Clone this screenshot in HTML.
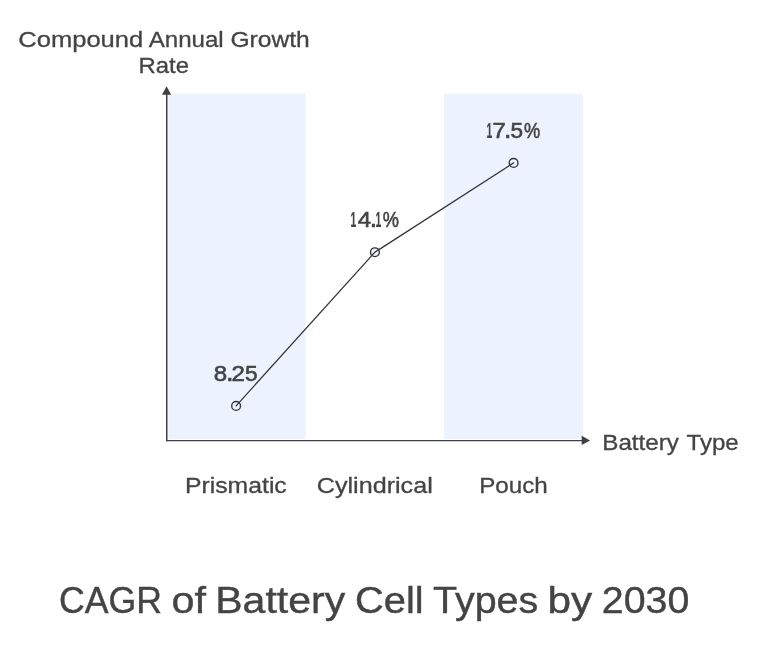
<!DOCTYPE html>
<html>
<head>
<meta charset="utf-8">
<title>CAGR of Battery Cell Types by 2030</title>
<style>
  html, body { margin: 0; padding: 0; background: #ffffff; }
  body { width: 783px; height: 654px; overflow: hidden; font-family: "Liberation Sans", sans-serif; }
  svg { display: block; will-change: transform; }
  text, tspan { font-family: "Liberation Sans", sans-serif; fill: #444444; stroke: #444444; stroke-width: 0.3px; }
  .lbl { font-size: 22.3px; }
  .num { font-size: 22.6px; stroke-width: 0.6px; }
  .one { font-size: 22.6px; font-weight: bold; stroke-width: 0.2px; }
  .dot { font-size: 28px; stroke-width: 0.3px; }
  .ttl { font-size: 37.6px; stroke-width: 0.4px; }
</style>
</head>
<body>
<svg width="783" height="654" viewBox="0 0 783 654">
  <rect x="0" y="0" width="783" height="654" fill="#ffffff"/>

  <!-- shaded bands -->
  <rect x="168.3" y="93.8" width="137" height="345.1" fill="#ecf3ff"/>
  <rect x="444" y="93.8" width="139.1" height="345.1" fill="#ecf3ff"/>

  <!-- axes -->
  <line x1="166.75" y1="94" x2="166.75" y2="441.3" stroke="#404040" stroke-width="1.5"/>
  <line x1="166" y1="440.6" x2="582.5" y2="440.6" stroke="#404040" stroke-width="1.4"/>
  <polygon points="166.6,86.2 171.1,94.8 162,94.8" fill="#404040"/>
  <polygon points="590.1,440.4 581.7,435.8 581.7,445" fill="#404040"/>

  <!-- markers -->
  <circle cx="236.1" cy="405.9" r="4.4" fill="#ecf3ff" stroke="#303030" stroke-width="1.35"/>
  <circle cx="374.9" cy="252.2" r="4.4" fill="#ecf3ff" stroke="#303030" stroke-width="1.35"/>
  <circle cx="513.6" cy="162.9" r="4.4" fill="#ecf3ff" stroke="#303030" stroke-width="1.35"/>
  <!-- line -->
  <path d="M236.10,405.90 L368.87,258.88 C370.88,256.65 372.61,254.14 374.90,252.20 C377.19,250.26 379.94,248.95 382.47,247.33 L513.60,162.90" fill="none" stroke="#363636" stroke-width="1.3" stroke-linecap="round" stroke-linejoin="round"/>

  <!-- text labels -->
  <!-- y-axis title -->
  <text><tspan class="lbl" x="18.25" y="47.0" textLength="125.00" lengthAdjust="spacingAndGlyphs">Compound</tspan> <tspan class="lbl" x="148.75" y="47.0" textLength="74.98" lengthAdjust="spacingAndGlyphs">Annual</tspan> <tspan class="lbl" x="230.50" y="47.0" textLength="79.25" lengthAdjust="spacingAndGlyphs">Growth</tspan> <tspan class="lbl" x="138.50" y="73.1" textLength="50.52" lengthAdjust="spacingAndGlyphs">Rate</tspan></text>
  <!-- x-axis title -->
  <text><tspan class="lbl" x="602.25" y="450.1" textLength="76.73" lengthAdjust="spacingAndGlyphs">Battery</tspan> <tspan class="lbl" x="686.50" y="450.1" textLength="52.22" lengthAdjust="spacingAndGlyphs">Type</tspan></text>
  <!-- data label 8.25 -->
  <text><tspan class="num" x="213.75" y="380.9" textLength="13.39" lengthAdjust="spacingAndGlyphs">8</tspan><tspan class="dot" x="225.50" y="380.9" textLength="8.51" lengthAdjust="spacingAndGlyphs">.</tspan><tspan class="num" x="231.50" y="380.9" textLength="13.42" lengthAdjust="spacingAndGlyphs">2</tspan><tspan class="num" x="245.00" y="380.9" textLength="12.61" lengthAdjust="spacingAndGlyphs">5</tspan></text>
  <!-- data label 14.1% -->
  <text><tspan class="one" x="350.50" y="227.0" textLength="5.75" lengthAdjust="spacingAndGlyphs">1</tspan><tspan class="num" x="357.75" y="227.0" textLength="13.41" lengthAdjust="spacingAndGlyphs">4</tspan><tspan class="dot" x="369.25" y="227.0" textLength="8.38" lengthAdjust="spacingAndGlyphs">.</tspan><tspan class="one" x="375.50" y="227.0" textLength="5.77" lengthAdjust="spacingAndGlyphs">1</tspan><tspan class="num" x="382.75" y="227.0" textLength="16.18" lengthAdjust="spacingAndGlyphs">%</tspan></text>
  <!-- data label 17.5% -->
  <text><tspan class="one" x="486.50" y="138.1" textLength="5.75" lengthAdjust="spacingAndGlyphs">1</tspan><tspan class="num" x="492.50" y="138.1" textLength="13.39" lengthAdjust="spacingAndGlyphs">7</tspan><tspan class="dot" x="503.50" y="138.1" textLength="8.27" lengthAdjust="spacingAndGlyphs">.</tspan><tspan class="num" x="510.50" y="138.1" textLength="12.62" lengthAdjust="spacingAndGlyphs">5</tspan><tspan class="num" x="524.00" y="138.1" textLength="16.17" lengthAdjust="spacingAndGlyphs">%</tspan></text>
  <!-- category Prismatic -->
  <text><tspan class="lbl" x="185.00" y="493.0" textLength="101.75" lengthAdjust="spacingAndGlyphs">Prismatic</tspan></text>
  <!-- category Cylindrical -->
  <text><tspan class="lbl" x="316.75" y="493.0" textLength="116.00" lengthAdjust="spacingAndGlyphs">Cylindrical</tspan></text>
  <!-- category Pouch -->
  <text><tspan class="lbl" x="479.25" y="493.0" textLength="68.54" lengthAdjust="spacingAndGlyphs">Pouch</tspan></text>
  <!-- chart title -->
  <text><tspan class="ttl" x="59.00" y="613.0" textLength="103.02" lengthAdjust="spacingAndGlyphs">CAGR</tspan> <tspan class="ttl" x="171.50" y="613.0" textLength="34.45" lengthAdjust="spacingAndGlyphs">of</tspan> <tspan class="ttl" x="215.25" y="613.0" textLength="130.01" lengthAdjust="spacingAndGlyphs">Battery</tspan> <tspan class="ttl" x="355.00" y="613.0" textLength="68.62" lengthAdjust="spacingAndGlyphs">Cell</tspan> <tspan class="ttl" x="433.00" y="613.0" textLength="105.24" lengthAdjust="spacingAndGlyphs">Types</tspan> <tspan class="ttl" x="547.50" y="613.0" textLength="44.74" lengthAdjust="spacingAndGlyphs">by</tspan> <tspan class="ttl" x="601.75" y="613.0" textLength="87.52" lengthAdjust="spacingAndGlyphs">2030</tspan></text>
</svg>
</body>
</html>
